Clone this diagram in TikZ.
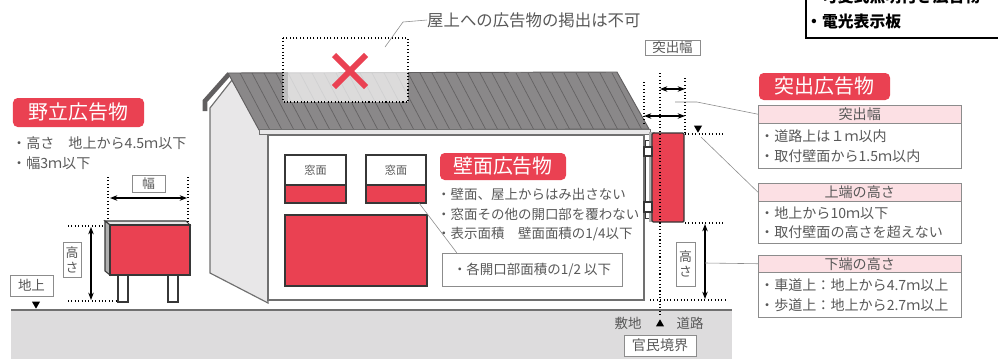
\documentclass[tikz,border=0pt]{standalone}
\usepackage{fontspec}
\setmainfont{Noto Sans CJK JP}
\usetikzlibrary{positioning,arrows.meta,calc,shapes.geometric}
\definecolor{SignRed}{RGB}{234,65,82}
\definecolor{HeadPink}{RGB}{252,224,228}
\definecolor{TextGray}{RGB}{88,88,88}
\definecolor{LineGray}{RGB}{140,140,140}
\definecolor{RoofGray}{RGB}{138,136,137}
\definecolor{StripeGray}{RGB}{100,98,99}
\definecolor{WallGray}{RGB}{232,231,232}
\definecolor{GroundGray}{RGB}{221,220,221}
\definecolor{EdgeDark}{RGB}{55,55,55}
\tikzset{
  dim/.style={{Stealth[length=2.2mm]}-{Stealth[length=2.2mm]},line width=1.1pt},
  guide/.style={dotted,line width=0.9pt},
  leader/.style={draw=LineGray,line width=0.5pt},
  edge/.style={draw=EdgeDark,line width=1.1pt},
  redtitle/.style={fill=SignRed,rounded corners=4pt,text=white,inner sep=0pt,
    font=\fontsize{17}{17}\selectfont},
  note/.style={anchor=west,inner sep=0pt,text=TextGray,font=\fontsize{11.5}{14}\selectfont},
  tagbox/.style={draw=LineGray,fill=white,text=TextGray,inner sep=0pt,align=center,
    font=\fontsize{11}{13}\selectfont},
  headbox/.style={draw=LineGray,fill=HeadPink,text=TextGray,inner sep=0pt,
    minimum width=6.09cm,minimum height=0.54cm,font=\fontsize{12}{12}\selectfont},
  bodybox/.style={draw=LineGray,fill=white,text=TextGray,inner xsep=1.7pt,inner ysep=0pt,
    text width=5.97cm,align=left,font=\fontsize{12}{17}\selectfont},
  pointer/.style={regular polygon,regular polygon sides=3,fill=black,inner sep=0pt,
    minimum size=0.28cm}
}

\begin{document}
\begin{tikzpicture}[x=0.03cm,y=-0.03cm]
  \useasboundingbox (0,0) rectangle (998,359);
  \clip (0,0) rectangle (998,359);

  % ground
  \fill[GroundGray] (11,310) rectangle (732,359);
  \draw[LineGray!80!black,line width=1pt] (11,310) -- (732,310);

  % gable end and front wall
  \draw[draw=LineGray!80!black,line width=1pt,fill=WallGray]
    (210,108) -- (232,80) -- (263,132) -- (268,135) -- (268,303) -- (210,273) -- cycle;
  \draw[draw=RoofGray!70!black,line width=4pt] (205,111) -- (205,101) -- (229,74);
  \draw[draw=LineGray!80!black,line width=1.4pt,fill=white] (268,135) rectangle (644,300);

  % roof with its sheet lines
  \fill[RoofGray] (228,73) -- (617,72) -- (649,129) -- (259,130) -- cycle;
  \begin{scope}
    \clip (228,73) -- (617,72) -- (649,129) -- (259,130) -- cycle;
    \foreach \i in {1,...,35}
      \draw[StripeGray,line width=0.6pt] (228+12*\i,73) -- ++(30,57);
  \end{scope}
  \draw[RoofGray!70!black,line width=0.8pt] (228,73) -- (617,72) -- (649,129) -- (259,130) -- cycle;
  \draw[LineGray!80!black,fill=WallGray,line width=0.8pt] (259,129) rectangle (650,134);

  % no advertising on the roof
  \fill[white,opacity=0.7] (283,38) rectangle (408,102);
  \fill[LineGray,opacity=0.35] (283,72) rectangle (288,102);
  \draw[guide] (283,38) rectangle (408,102);
  \draw[SignRed,line width=5pt] (334,55) -- (366,87) (366,55) -- (334,87);
  \node[anchor=west,inner sep=0pt,text=TextGray,font=\fontsize{14}{14}\selectfont]
    (roofnote) at (427,20) {屋上への広告物の掲出は不可};
  \coordinate (roofpt) at (385,47);
  \coordinate (roofbend) at (403,22);
  \draw[leader] (roofpt) -- (roofbend) -- (roofnote.west);

  % wall signs
  \fill[SignRed] (285,185) rectangle (346,203);
  \draw[edge] (285,155) rectangle (346,203) (285,185) -- (346,185);
  \fill[SignRed] (366,185) rectangle (426,203);
  \draw[edge] (366,155) rectangle (426,203) (366,185) -- (426,185);
  \node[text=TextGray,font=\fontsize{9.5}{10}\selectfont] (win1) at (315.5,170) {窓面};
  \node[text=TextGray,font=\fontsize{9.5}{10}\selectfont] (win2) at (396,170) {窓面};
  \draw[edge,fill=SignRed] (285,215) rectangle (427,286);

  \node[redtitle,minimum width=3.78cm,minimum height=0.81cm] (wallttl) at (503,166.5) {壁面広告物};
  \node[note] (wall1) at (437,194) {・壁面、屋上からはみ出さない};
  \node[note] (wall2) at (437,214) {・窓面その他の開口部を覆わない};
  \node[note] (wall3) at (437,234) {・表示面積　壁面面積の1/4以下};
  \node[tagbox,minimum width=5.4cm,minimum height=0.99cm,font=\fontsize{11.5}{14}\selectfont]
    (openbox) at (532,269.5) {・各開口部面積の1/2 以下};
  \coordinate (winpt) at (419,203);
  \draw[leader] (winpt) -- ($(openbox.north west)+(15,0)$);

  % projecting sign
  \draw[edge,fill=white,line width=0.8pt] (645,140) rectangle (650,218);
  \fill[LineGray!70] (649,132) rectangle (655,222);
  \draw[edge,fill=SignRed,rounded corners=1pt] (652,133) rectangle (684,222);
  \draw[edge,fill=white,line width=0.9pt] (644,147) rectangle (652,156);
  \draw[edge,fill=white,line width=0.9pt] (644,202) rectangle (652,212);

  \draw[guide] (644,82) -- (644,124);
  \draw[guide] (660,73) -- (660,317);
  \draw[guide] (685,78) -- (685,133);
  \draw[guide] (685,134) -- (723,134);
  \draw[guide] (685,223) -- (723,223);
  \draw[guide] (650,300) -- (728,300);
  \draw[dim] (660,89) -- (685,89);
  \draw[dim] (644,116) -- (685,116);
  \draw[dim] (705,224) -- (705,299);
  \node[tagbox,minimum width=1.65cm,minimum height=0.45cm,font=\fontsize{11.5}{12}\selectfont]
    (projtag) at (672.5,47.5) {突出幅};
  \node[tagbox,minimum width=0.57cm,minimum height=1.32cm] (hgtR) at (685.5,264) {高\\さ};
  \node[pointer,rotate=180] (topmark) at (698,128) {};

  % boundary on the ground
  \node[text=TextGray,font=\fontsize{11.5}{12}\selectfont] (siteL) at (628,323) {敷地};
  \node[text=TextGray,font=\fontsize{11.5}{12}\selectfont] (roadL) at (690,323) {道路};
  \node[pointer] (lineMark) at (660,324) {};
  \node[tagbox,minimum width=2.16cm,minimum height=0.63cm,font=\fontsize{12}{12}\selectfont]
    (boundary) at (660,345.5) {官民境界};

  % callouts for the projecting sign
  \node[redtitle,minimum width=3.93cm,minimum height=0.81cm] (projttl) at (824.5,86.5) {突出広告物};
  \node[headbox,anchor=north west] (hd1) at (758,105) {突出幅};
  \node[bodybox,minimum height=1.35cm,below=0pt of hd1] (bd1) {・道路上は１ｍ以内\\・取付壁面から1.5ｍ以内};
  \node[headbox,anchor=north west] (hd2) at (758,183) {上端の高さ};
  \node[bodybox,minimum height=1.26cm,below=0pt of hd2] (bd2) {・地上から10ｍ以下\\・取付壁面の高さを超えない};
  \node[headbox,anchor=north west,minimum height=0.51cm] (hd3) at (758,255) {下端の高さ};
  \node[bodybox,minimum height=1.35cm,below=0pt of hd3] (bd3) {・車道上：地上から4.7ｍ以上\\・歩道上：地上から2.7ｍ以上};
  \coordinate (projpt) at (675,102);
  \coordinate (projbend) at (697,102);
  \coordinate (toppt) at (701,137);
  \coordinate (lowpt) at (705,263);
  \draw[leader] (projpt) -- (projbend) -- (hd1.west);
  \draw[leader] (toppt) -- (hd2.west);
  \draw[leader] (lowpt) -- (hd3.west);

  % free-standing billboard
  \draw[edge,fill=white] (118,275) rectangle (128,302);
  \draw[edge,fill=white] (168,275) rectangle (178,302);
  \draw[edge,fill=WallGray,line width=0.9pt] (105,221) -- (186,221) -- (190,225) -- (110,225) -- cycle;
  \draw[edge,fill=LineGray!70,line width=0.9pt] (105,221) -- (110,225) -- (110,275) -- (105,271) -- cycle;
  \draw[edge,fill=SignRed] (110,225) rectangle (190,275);
  \draw[guide] (108,177) -- (108,220);
  \draw[guide] (188,177) -- (188,222);
  \draw[guide] (68,226) -- (104,226);
  \draw[guide] (68,301) -- (117,301);
  \draw[dim] (110,198) -- (187,198);
  \draw[dim] (91,227) -- (91,300);
  \node[tagbox,minimum width=0.99cm,minimum height=0.51cm] (widthtag) at (148.5,183.5) {幅};
  \node[tagbox,minimum width=0.54cm,minimum height=1.05cm] (hgtL) at (72,259.5) {高\\さ};
  \node[tagbox,minimum width=1.29cm,minimum height=0.63cm,font=\fontsize{11.5}{12}\selectfont]
    (groundtag) at (31.5,285.5) {地上};
  \node[pointer,rotate=180] (groundmark) at (36,304) {};

  \node[redtitle,minimum width=3.93cm,minimum height=0.87cm] (standttl) at (78.5,112.5) {野立広告物};
  \node[note,font=\fontsize{12}{14}\selectfont] (stand1) at (12,143) {・高さ　地上から4.5ｍ以下};
  \node[note,font=\fontsize{12}{14}\selectfont] (stand2) at (12,163) {・幅3ｍ以下};

  % other sign types
  \draw[black,line width=1.6pt,fill=white] (806,-30) rectangle (1010,38);
  \node[anchor=west,inner sep=0pt,font=\fontsize{13.5}{14}\bfseries] (other1) at (806,-3) {・可変式照明付き広告物};
  \node[anchor=west,inner sep=0pt,font=\fontsize{13.5}{14}\bfseries] (other2) at (806,22) {・電光表示板};
\end{tikzpicture}
\end{document}
